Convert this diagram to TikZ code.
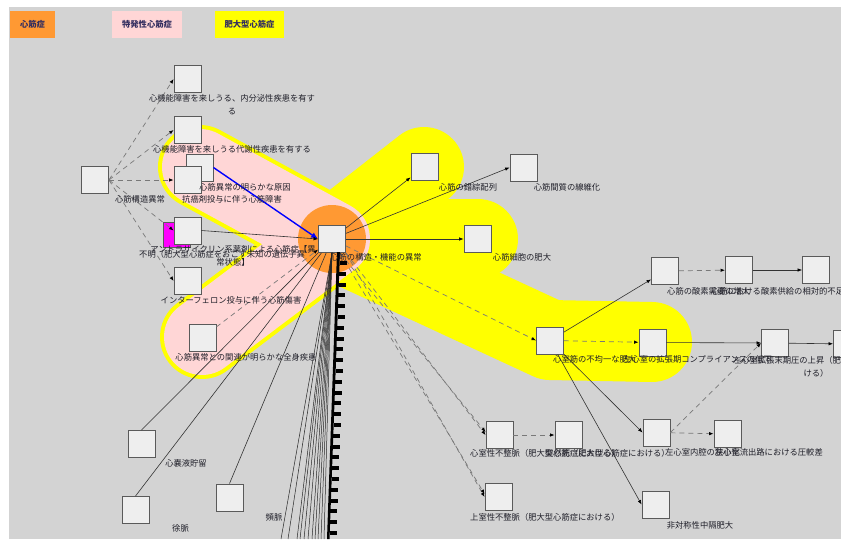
\documentclass[tikz,border=0pt]{standalone}
\usepackage{fontspec}
\usepackage{xcolor}
\usepackage{tikz}
\usetikzlibrary{arrows.meta,calc,positioning}
\newfontfamily\jpfont{Noto Sans CJK JP}
\definecolor{canvasgray}{RGB}{211,211,211}
\definecolor{boxfill}{RGB}{238,238,238}
\definecolor{boxline}{RGB}{90,90,90}
\definecolor{cmorange}{RGB}{255,153,51}
\definecolor{cmpink}{RGB}{255,214,214}
\definecolor{cmyellow}{RGB}{255,255,0}
\definecolor{cmmagenta}{RGB}{255,0,255}
\definecolor{legendtext}{RGB}{50,45,95}
\definecolor{labeltext}{RGB}{30,30,40}
\definecolor{dashgray}{RGB}{120,120,120}

\begin{document}
\begin{tikzpicture}[x=1pt,y=-1pt,
  item/.style={draw=boxline,fill=boxfill,line width=0.9pt,minimum size=27pt,inner sep=0pt},
  lbl/.style={font=\jpfont\fontsize{8.3}{13}\selectfont,text=labeltext,inner sep=0pt,align=center},
  key/.style={font=\jpfont\bfseries\fontsize{8.3}{10}\selectfont,text=legendtext,minimum height=27pt,inner sep=0pt},
  rel/.style={draw=black!80,line width=0.6pt,-{Latex[length=4.5pt,width=3.5pt,black]}},
  hint/.style={draw=dashgray,line width=0.7pt,dash pattern=on 5pt off 4pt,-{Latex[length=4.5pt,width=3.5pt,black]}},
  band/.style={line cap=round,line join=round}]
\useasboundingbox (0,0) rectangle (841,539);
\clip (0,0) rectangle (841,539);
\fill[white] (0,0) rectangle (841,539);
\fill[canvasgray] (9,7) rectangle (841,539);

% ---------- 凡例 ----------
\node[key,fill=cmorange,minimum width=45pt] (key-cm) at (32.5,24.5) {心筋症};
\node[key,fill=cmpink,minimum width=70pt] (key-idio) at (147,24.5) {特発性心筋症};
\node[key,fill=cmyellow,minimum width=69pt] (key-hcm) at (249.5,24.5) {肥大型心筋症};

% ---------- 強調パス ----------
\draw[band,cmyellow,line width=80pt] (478,239) -- (332,239) -- (424,167);
\draw[band,cmyellow,line width=80pt] (332,239) -- (550,340) -- (652,342);
\draw[band,cmyellow,line width=84pt] (200,167) -- (332,239) -- (202,337);
\draw[band,cmpink,line width=76pt] (200,167) -- (332,239) -- (202,337);
\fill[cmorange] (332,239) circle[radius=34pt];

% ---------- ノード ----------
\node[item] (main) at (332,239) {};
\node[item] (struct) at (95,180) {};
\node[item] (endo) at (187.5,79) {};
\node[item] (meta) at (187.5,130) {};
\node[item] (cause) at (199.5,167.5) {};
\node[item] (chemo) at (187.5,180) {};
\node[item,fill=cmmagenta,minimum height=25pt] (unknown) at (176.5,234.5) {};
\node[item] (anthra) at (187.5,230.5) {};
\node[item] (ifn) at (187.5,281) {};
\node[item] (systemic) at (202.5,337.5) {};
\node[item] (disarray) at (424.5,166.5) {};
\node[item] (fibrosis) at (523.5,167.5) {};
\node[item] (hypertrophy) at (477.5,239) {};
\node[item] (asym) at (550,340.5) {};
\node[item] (compl) at (652.5,342.5) {};
\node[item] (edp) at (775,343) {};
\node[item] (congest) at (847,344) {};
\node[item] (demand) at (665,271) {};
\node[item] (ischemia) at (739,270) {};
\node[item] (angina) at (816,270) {};
\node[item] (vtach) at (499.5,435) {};
\node[item] (sudden) at (568.5,435) {};
\node[item] (cavity) at (656.5,432.5) {};
\node[item] (gradient) at (727.5,434) {};
\node[item] (svt) at (498.5,497) {};
\node[item] (septum) at (655.5,504.5) {};
\node[item] (effusion) at (141.5,444) {};
\node[item] (brady) at (135.5,510) {};
\node[item] (tachy) at (229.5,497.5) {};

% ---------- リンク ----------
\foreach \t in {endo,meta,chemo,anthra,ifn}
  \draw[hint] (struct.east) -- (\t.west);
\draw[blue,line width=1.4pt,-{Latex[length=7pt,width=6pt]}] (cause.east) -- (main.west);
\draw[rel] (anthra.east) -- (main.west);
\draw[hint] (systemic) -- (main);
\draw[rel] (main) -- (disarray);
\draw[rel] (main) -- (fibrosis.west);
\draw[rel] (main) -- (hypertrophy);
\draw[hint] (main) -- (asym.west);
\draw[hint] (main.south east) -- (vtach.west);
\draw[hint] ([xshift=-6pt]main.south east) -- ([yshift=3pt]vtach.west);
\draw[hint] (main.south east) -- (svt.west);
\draw[hint] ([xshift=-6pt]main.south east) -- ([yshift=3pt]svt.west);
\draw[rel] (asym) -- (demand);
\draw[hint] (asym) -- (compl);
\draw[rel] (asym) -- (cavity.west);
\draw[rel] (asym) -- (septum.west);
\draw[hint] (demand) -- (ischemia);
\draw[rel] (ischemia) -- (angina);
\draw[rel] (compl) -- (edp);
\draw[rel] (edp) -- (congest);
\draw[hint] (cavity.east) -- (edp.west);
\draw[hint] (cavity) -- (gradient);
\draw[hint] (vtach) -- (sudden);
\foreach \t in {effusion,brady,tachy}
  \draw[black!80,line width=0.6pt] (main) -- (\t.north);

% 下方へ伸びる多数のリンク
\foreach \bx in {281,288,297,300,304,308,312,315,318,321,324}
  \draw[black!85,line width=0.5pt] (main.south) -- (\bx,539);
\fill[black] (337,252) -- (340,252) -- (329.5,539) -- (327,539) -- cycle;
\foreach \i in {0,...,25}
  \fill[black] ({339.5-\i*0.4},{261+\i*10.8}) rectangle ++(7,4);

% ---------- ラベル ----------
\node[lbl] (endo-l) at (232,104.5) {心機能障害を来しうる、内分泌性疾患を有す\\る};
\node[lbl] (meta-l) at (232,149) {心機能障害を来しうる代謝性疾患を有する};
\node[lbl] (cause-l) at (245,187) {心筋異常の明らかな原因};
\node[lbl] (chemo-l) at (232,199) {抗癌剤投与に伴う心筋障害};
\node[lbl] (struct-l) at (140,199) {心筋構造異常};
\node[lbl,anchor=west] (unknown-l) at (139,254) {不明（肥大型心筋症をおこす未知の遺伝子異};
\node[lbl] (anthra-l) at (233,255.5) {アントラサイクリン系薬剤による心筋症【異\\常状態】};
\node[lbl] (ifn-l) at (231,300) {インターフェロン投与に伴う心筋傷害};
\node[lbl] (systemic-l) at (246,357) {心筋異常との関連が明らかな全身疾患};
\node[lbl] (main-l) at (376,257) {心筋の構造・機能の異常};
\node[lbl] (disarray-l) at (468,187) {心筋の錯綜配列};
\node[lbl] (fibrosis-l) at (567,187) {心筋間質の線維化};
\node[lbl] (hypertrophy-l) at (522,257) {心筋細胞の肥大};
\node[lbl,anchor=west] (demand-l) at (667,291) {心筋の酸素需要の増大};
\node[lbl,anchor=west] (ischemia-l) at (711,291) {心筋における酸素供給の相対的不足};
\node[lbl,anchor=west] (asym-l) at (553,359) {心室筋の不均一な肥大};
\node[lbl,anchor=west] (compl-l) at (623,359) {左心室の拡張期コンプライアンスの低下};
\node[lbl] (edp-l) at (816,366.5) {左心室拡張末期圧の上昇（肥大型心筋症にお\\ける）};
\node[lbl,anchor=west] (vtach-l) at (470,453) {心室性不整脈（肥大型心筋症における）};
\node[lbl,anchor=west] (sudden-l) at (545,453) {突然死（肥大型心筋症における）};
\node[lbl,anchor=west] (cavity-l) at (665,452) {左心室内腔の狭小化};
\node[lbl,anchor=east] (gradient-l) at (823,452) {左心室流出路における圧較差};
\node[lbl,anchor=west] (svt-l) at (470,517) {上室性不整脈（肥大型心筋症における）};
\node[lbl] (septum-l) at (700,525) {非対称性中隔肥大};
\node[lbl] (effusion-l) at (186,463) {心嚢液貯留};
\node[lbl,anchor=west] (brady-l) at (172,528) {徐脈};
\node[lbl] (tachy-l) at (274,517) {頻脈};
\end{tikzpicture}
\end{document}
